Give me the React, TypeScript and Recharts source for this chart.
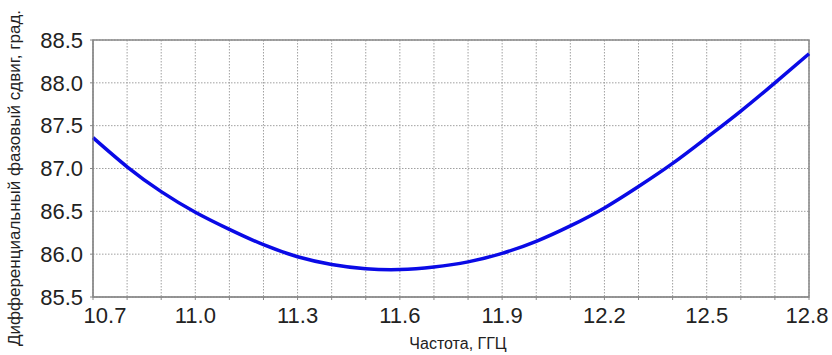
import { LineChart, Line, XAxis, YAxis, CartesianGrid, ReferenceArea } from 'recharts';

// частота, ГГц
const freqs = [
  10.7, 10.8, 10.9, 11.0, 11.1, 11.2, 11.3, 11.4, 11.5, 11.6, 11.7,
  11.8, 11.9, 12.0, 12.1, 12.2, 12.3, 12.4, 12.5, 12.6, 12.7, 12.8,
];
// дифференциальный фазовый сдвиг, град.
const phaseShift = [
  87.36, 87.02, 86.73, 86.49, 86.29, 86.11, 85.97, 85.88, 85.83, 85.82, 85.85,
  85.91, 86.01, 86.15, 86.33, 86.54, 86.79, 87.06, 87.36, 87.67, 88.0, 88.34,
];

const xTicks = freqs;
const xLabels = ['10.7', '11.0', '11.3', '11.6', '11.9', '12.2', '12.5', '12.8'];
const yTicks = [85.5, 86.0, 86.5, 87.0, 87.5, 88.0, 88.5];

const xTitle = 'Частота, ГГЦ';
const yTitle = 'Дифференциальный фазовый сдвиг, град.';

const data = freqs.map((f, i) => ({ f, v: phaseShift[i] }));

const FONT = '"Liberation Sans", Arial, sans-serif';

function XTick(props: any) {
  const { x, y, payload } = props;
  const label = payload.value.toFixed(1);
  if (!xLabels.includes(label)) return null;
  const dx = label === xLabels[0] ? 12 : label === xLabels[xLabels.length - 1] ? -2 : 0;
  return (
    <text x={x + dx} y={y} dy="0.71em" textAnchor="middle" fontSize={22} fill="#222" fontFamily={FONT}>
      {label}
    </text>
  );
}

export default function App() {
  return (
    <div style={{ position: 'absolute', left: 0, top: 0, width: 832, height: 355, background: '#fff', fontFamily: FONT }}>
      <LineChart width={832} height={355} data={data} margin={{ top: 40, right: 23, bottom: 0, left: 0 }}>
        <CartesianGrid stroke="#a0a0a0" strokeDasharray="1.5 1.5" />
        <XAxis
          dataKey="f"
          type="number"
          domain={[10.7, 12.8]}
          ticks={xTicks}
          interval={0}
          height={58}
          tickSize={3}
          tickMargin={7}
          tick={<XTick />}
          stroke="#888"
          tickLine={{ stroke: '#888' }}
        />
        <YAxis
          type="number"
          domain={[85.5, 88.5]}
          ticks={yTicks}
          interval={0}
          width={93}
          tickSize={3}
          tickMargin={7}
          tickFormatter={(v: number) => v.toFixed(1)}
          tick={{ fontSize: 22, fill: '#222', fontFamily: FONT }}
          stroke="#888"
        />
        <ReferenceArea x1={10.7} x2={12.8} y1={85.5} y2={88.5} fill="none" stroke="#888" strokeWidth={1.5} ifOverflow="visible" />
        <Line
          type="natural"
          dataKey="v"
          stroke="#0a0ae6"
          strokeWidth={3.5}
          dot={false}
          isAnimationActive={false}
        />
      </LineChart>
      <div
        style={{
          position: 'absolute',
          left: 458,
          top: 344,
          transform: 'translate(-50%, -50%)',
          fontSize: 16,
          color: '#222',
          whiteSpace: 'nowrap',
        }}
      >
        {xTitle}
      </div>
      <div
        style={{
          position: 'absolute',
          left: 15,
          top: 178,
          transform: 'translate(-50%, -50%) rotate(-90deg)',
          fontSize: 17,
          color: '#222',
          whiteSpace: 'nowrap',
        }}
      >
        {yTitle}
      </div>
    </div>
  );
}
